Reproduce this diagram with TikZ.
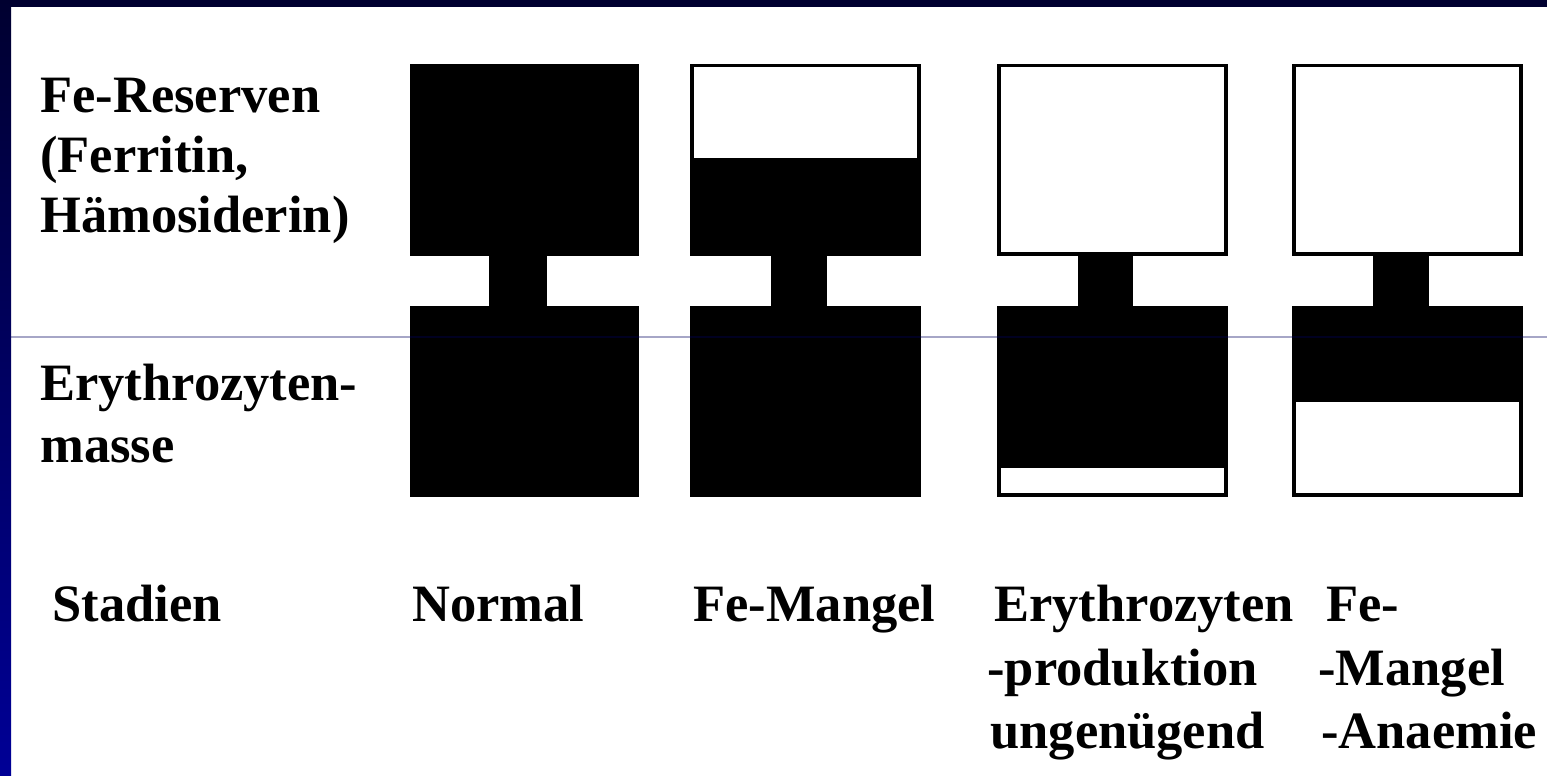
\documentclass[tikz,border=0pt]{standalone}
\usepackage{fontspec}
\setmainfont{Liberation Serif}
\definecolor{navytop}{RGB}{0,0,48}
\definecolor{navybot}{RGB}{0,0,150}
\definecolor{rulecol}{RGB}{0,0,96}
\tikzset{
  lbl/.style={anchor=base west, inner sep=0pt, text=black,
    font=\bfseries\fontsize{26.25pt}{31.5pt}\selectfont},
  blk/.style={fill=black},
  boxframe/.style={draw=black, line width=1.85pt},
}
\begin{document}
\begin{tikzpicture}[x=0.5pt,y=0.5pt]
\useasboundingbox (0,0) rectangle (1547,-776);
\fill[white] (0,0) rectangle (1547,-776);
% slide frame
\fill[navytop] (0,0) rectangle (1547,-7);
\shade[top color=navytop, bottom color=navybot] (0,0) rectangle (11,-776);

% column 1: Normal
\fill[blk] (410,-63.5) rectangle (639,-256);
\fill[blk] (489,-256) rectangle (547,-306);
\fill[blk] (410,-306) rectangle (639,-497);

% column 2: Fe-Mangel
\fill[blk] (690,-158.3) rectangle (921,-256);
\draw[boxframe] (691.85,-65.35) rectangle (919.15,-254.15);
\fill[blk] (771,-256) rectangle (827,-306);
\fill[blk] (690,-306) rectangle (921,-497);

% column 3: Erythrozytenproduktion ungenuegend
\draw[boxframe] (998.85,-65.35) rectangle (1226.15,-254.15);
\fill[blk] (1078,-256) rectangle (1133,-306);
\fill[blk] (997,-306) rectangle (1228,-468.3);
\draw[boxframe] (998.85,-307.85) rectangle (1226.15,-495.15);

% column 4: Fe-Mangel-Anaemie
\draw[boxframe] (1293.85,-65.35) rectangle (1521.15,-254.15);
\fill[blk] (1373,-256) rectangle (1429,-306);
\fill[blk] (1292,-306) rectangle (1523,-402.3);
\draw[boxframe] (1293.85,-307.85) rectangle (1521.15,-495.15);

% thin rule across the slide
\draw[rulecol, opacity=0.35, line width=0.75pt] (11,-337) -- (1547,-337);

% row labels
\node[lbl] (fe1) at (40,-112) {Fe-Reserven};
\node[lbl] (fe2) at (40,-172) {(Ferritin,};
\node[lbl] (fe3) at (40,-232) {Hämosiderin)};
\node[lbl] (ery1) at (40,-400) {Erythrozyten-};
\node[lbl] (ery2) at (40,-462) {masse};

% stage labels
\node[lbl] (stadien) at (52,-621) {Stadien};
\node[lbl] (normal) at (412,-621) {Normal};
\node[lbl] (femangel) at (693,-621) {Fe-Mangel};
\node[lbl] (st3a) at (994,-621) {Erythrozyten};
\node[lbl] (st3b) at (987,-685) {-produktion};
\node[lbl] (st3c) at (990,-748) {ungenügend};
\node[lbl] (st4a) at (1326,-621) {Fe-};
\node[lbl] (st4b) at (1318,-685) {-Mangel};
\node[lbl] (st4c) at (1321,-748) {-Anaemie};
\end{tikzpicture}
\end{document}
